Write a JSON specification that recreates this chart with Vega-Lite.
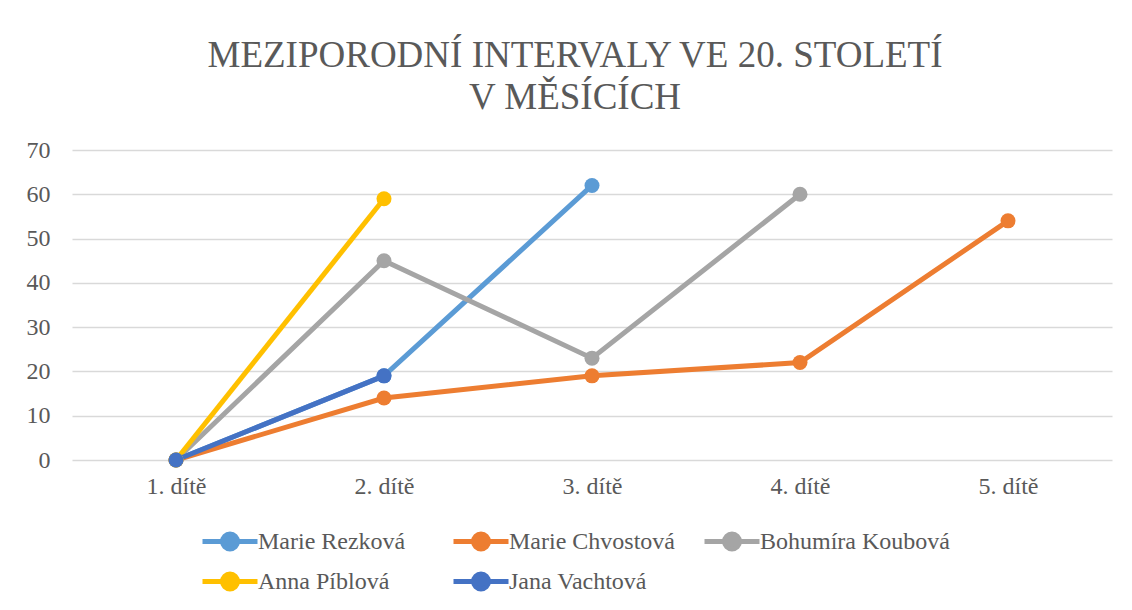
{
  "$schema": "https://vega.github.io/schema/vega-lite/v6.json",
  "width": 1040,
  "height": 310,
  "autosize": {"type": "none"},
  "padding": {"left": 72, "top": 150, "right": 20, "bottom": 150},
  "background": "white",
  "config": {
    "view": {"stroke": null},
    "font": "Liberation Serif"
  },
  "title": {
    "text": ["MEZIPORODNÍ INTERVALY VE 20. STOLETÍ", "V MĚSÍCÍCH"],
    "font": "Liberation Serif",
    "fontSize": 37,
    "fontWeight": "normal",
    "color": "#595959",
    "anchor": "middle",
    "dx": -17,
    "lineHeight": 42,
    "offset": 21
  },
  "data": {
    "values": [
      {"series": "Marie Rezková", "child": "1. dítě", "months": 0},
      {"series": "Marie Rezková", "child": "2. dítě", "months": 19},
      {"series": "Marie Rezková", "child": "3. dítě", "months": 62},
      {"series": "Marie Chvostová", "child": "1. dítě", "months": 0},
      {"series": "Marie Chvostová", "child": "2. dítě", "months": 14},
      {"series": "Marie Chvostová", "child": "3. dítě", "months": 19},
      {"series": "Marie Chvostová", "child": "4. dítě", "months": 22},
      {"series": "Marie Chvostová", "child": "5. dítě", "months": 54},
      {"series": "Bohumíra Koubová", "child": "1. dítě", "months": 0},
      {"series": "Bohumíra Koubová", "child": "2. dítě", "months": 45},
      {"series": "Bohumíra Koubová", "child": "3. dítě", "months": 23},
      {"series": "Bohumíra Koubová", "child": "4. dítě", "months": 60},
      {"series": "Anna Píblová", "child": "1. dítě", "months": 0},
      {"series": "Anna Píblová", "child": "2. dítě", "months": 59},
      {"series": "Jana Vachtová", "child": "1. dítě", "months": 0},
      {"series": "Jana Vachtová", "child": "2. dítě", "months": 19}
    ]
  },
  "mark": {
    "type": "line",
    "strokeWidth": 5,
    "point": {"filled": true, "size": 225, "opacity": 1}
  },
  "encoding": {
    "x": {
      "field": "child",
      "type": "ordinal",
      "sort": ["1. dítě", "2. dítě", "3. dítě", "4. dítě", "5. dítě"],
      "scale": {"padding": 0.5},
      "axis": {
        "title": null,
        "domain": false,
        "ticks": false,
        "grid": false,
        "labelAngle": 0,
        "labelPadding": 14,
        "labelFont": "Liberation Serif",
        "labelFontSize": 24,
        "labelColor": "#595959"
      }
    },
    "y": {
      "field": "months",
      "type": "quantitative",
      "scale": {"domain": [0, 70]},
      "axis": {
        "title": null,
        "values": [0, 10, 20, 30, 40, 50, 60, 70],
        "domain": false,
        "ticks": false,
        "gridColor": "#d9d9d9",
        "gridWidth": 1.5,
        "labelPadding": 22,
        "labelFont": "Liberation Serif",
        "labelFontSize": 24,
        "labelColor": "#595959"
      }
    },
    "color": {
      "field": "series",
      "type": "nominal",
      "scale": {
        "domain": ["Marie Rezková", "Marie Chvostová", "Bohumíra Koubová", "Anna Píblová", "Jana Vachtová"],
        "range": ["#5B9BD5", "#ED7D31", "#A5A5A5", "#FFC000", "#4472C4"]
      },
      "legend": {
        "title": null,
        "orient": "none",
        "legendX": 128,
        "legendY": 378,
        "direction": "horizontal",
        "columns": 3,
        "gridAlign": "all",
        "columnPadding": -5,
        "rowPadding": 5,
        "symbolType": "M-1,0L4,0M0.82,0a0.68,0.68 0 1,0 1.36,0a0.68,0.68 0 1,0 -1.36,0",
        "symbolSize": 484,
        "symbolStrokeWidth": 5,
        "labelOffset": 31,
        "labelFont": "Liberation Serif",
        "labelFontSize": 24,
        "labelColor": "#595959",
        "labelLimit": 300,
        "encode": {
          "symbols": {
            "update": {
              "fill": {"scale": "color", "field": "value"},
              "stroke": {"scale": "color", "field": "value"},
              "opacity": {"value": 1}
            }
          }
        }
      }
    },
    "order": {"field": "child"}
  }
}
